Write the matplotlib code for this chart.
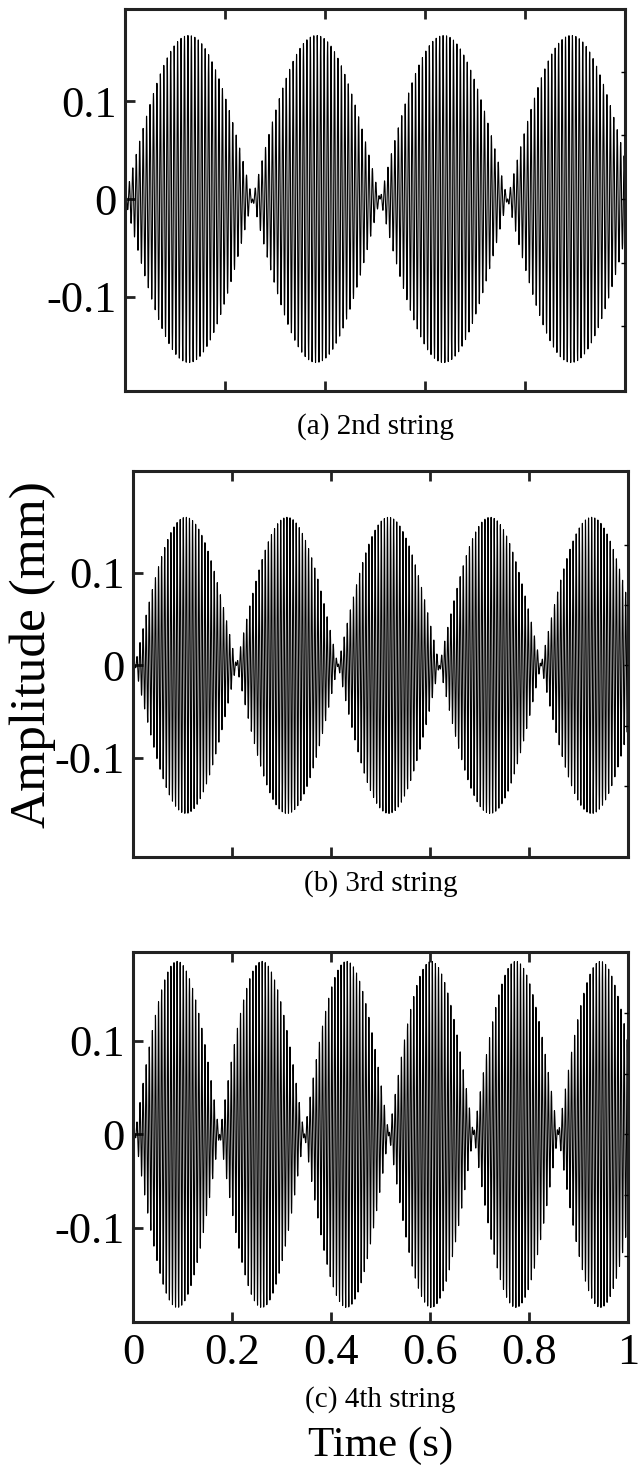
import numpy as np
import matplotlib
matplotlib.use("Agg")
import matplotlib.pyplot as plt

plt.rcParams["font.family"] = ["Liberation Serif", "DejaVu Serif"]

# Values, one entry per panel
captions = ["(a) 2nd string", "(b) 3rd string", "(c) 4th string"]
beat_period = [0.255, 0.205, 0.171]      # time between envelope nodes (s)
first_node = [0.0, 0.004, 0.004]         # first zero of the envelope (s)
peak_amp = [0.167, 0.160, 0.185]         # height of each lobe (mm)
carrier_hz = [145, 160, 160]             # visible oscillation rate
ylims = [(-0.196, 0.194), (-0.207, 0.210), (-0.2005, 0.195)]

xticks = [0, 0.2, 0.4, 0.6, 0.8, 1]
xticklabels = ["0", "0.2", "0.4", "0.6", "0.8", "1"]
yticks = [-0.1, 0, 0.1]
yticklabels = ["-0.1", "0", "0.1"]
right_ticks = [-0.13, -0.065, 0, 0.065, 0.13]

# axes boxes in pixels: left, top, right, bottom
boxes = [(125, 9, 625, 391), (133, 471, 628, 857), (133, 952, 628, 1322)]
caption_y = [427, 884, 1400]

W, H = 640, 1475
fig = plt.figure(figsize=(W / 100, H / 100), dpi=100)

t = np.linspace(0, 1, 30000)
for i in range(3):
    l, top, r, b = boxes[i]
    ax = fig.add_axes([l / W, 1 - b / H, (r - l) / W, (b - top) / H])
    env = peak_amp[i] * np.sin(np.pi * (t - first_node[i]) / beat_period[i])
    y = env * np.sin(2 * np.pi * carrier_hz[i] * t)
    ax.plot(t, y, color="black", lw=0.8)
    ax.set_xlim(0, 1)
    ax.set_ylim(*ylims[i])

    for s in ax.spines.values():
        s.set_linewidth(2.2)
        s.set_color("#222222")

    ax.set_xticks(xticks)
    ax.set_yticks(yticks)
    ax.set_yticklabels(yticklabels)
    ax.tick_params(axis="both", direction="in", length=7, width=2.0,
                   labelsize=32, pad=6, color="#222222")
    ax.tick_params(axis="x", top=True, bottom=True)
    if i < 2:
        ax.set_xticklabels([])
    else:
        ax.set_xticklabels(xticklabels)
        ax.tick_params(axis="x", pad=8)

    # small ticks on the right side
    rax = ax.twinx()
    rax.set_ylim(*ylims[i])
    rax.set_yticks(right_ticks)
    rax.set_yticklabels([])
    rax.tick_params(axis="y", direction="in", length=3, width=1.0)
    for s in rax.spines.values():
        s.set_visible(False)

    fig.text((l + r) / 2 / W, 1 - caption_y[i] / H, captions[i],
             ha="center", va="center", fontsize=21)

fig.text(33 / W, 1 - 655 / H, "Amplitude (mm)", rotation=90,
         ha="center", va="center", fontsize=37)
fig.text(381 / W, 1 - 1446 / H, "Time (s)", ha="center", va="center",
         fontsize=31)

fig.savefig("out.png", dpi=100)
